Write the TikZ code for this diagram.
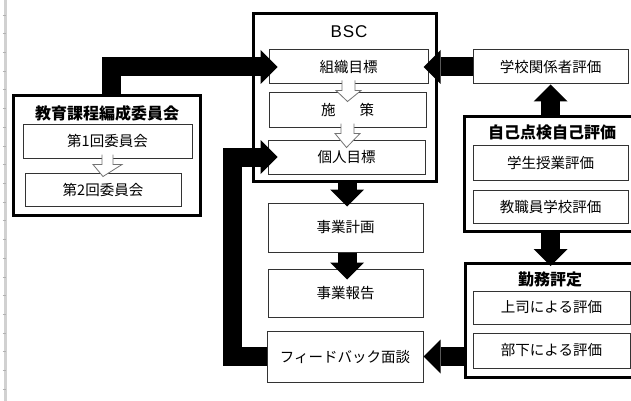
\documentclass[tikz,border=0pt]{standalone}
\usepackage{fontspec}
\setmainfont{Liberation Sans}
\newfontfamily\jp{Noto Sans CJK JP}
\usetikzlibrary{arrows.meta,calc}
\newcommand\hollowarrow[5]{%
  \filldraw[hollow] ($(#1.south)+(-#4,-4)$) -- ($(#1.south)+(-#4,6)$) -- ($(#1.south)+(-#5,6)$)
    -- ($(#2.north)+(0,#3)$) -- ($(#1.south)+(#5,6)$) -- ($(#1.south)+(#4,6)$) -- ($(#1.south)+(#4,-4)$);}
\begin{document}
\begin{tikzpicture}[x=1pt,y=-1pt]
\tikzset{
  inbox/.style={draw=black!80, line width=1pt, fill=white, inner sep=0pt,
    font=\jp\fontsize{14.5}{16}\selectfont, text=black},
  outbox/.style={draw=black, line width=3.4pt, fill=white, inner sep=0pt},
  boxtitle/.style={font=\jp\bfseries\fontsize{16}{18}\selectfont, inner sep=0pt, text=black},
  bigarrow/.style={line width=19pt, draw=black, line join=miter,
    -{Triangle[width=34pt,length=17pt,line width=0pt]}},
  hollow/.style={draw=black!55, line width=0.8pt, fill=white, line join=miter},
  margin/.style={fill=black!18},
  tick/.style={draw=black!30, line width=0.6pt}
}
\useasboundingbox (0,0) rectangle (631,401);
\clip (0,0) rectangle (631,401);
% left margin strip
\fill[margin] (4,0) rectangle (7,401);
\foreach \k in {0,...,21} \draw[tick] (2.5,15+18.7*\k) -- (6,15+18.7*\k);

% committee
\node[outbox, minimum width=186.6pt, minimum height=119.6pt] (com) at (107,155.5) {};
\node[boxtitle] (comt) at (107,113) {教育課程編成委員会};
\node[inbox, minimum width=169pt, minimum height=34pt] (c1) at (107.5,141) {第1回委員会};
\node[inbox, minimum width=156pt, minimum height=33pt] (c2) at (103,189.5) {第2回委員会};

% BSC
\node[outbox, minimum width=182.6pt, minimum height=167.6pt] (bsc) at (345,97.5) {};
\node[inner sep=0pt, font=\addfontfeature{LetterSpace=6}\fontsize{17}{19}\selectfont] (bsct) at (349,32) {BSC};
\node[inbox, minimum width=159pt, minimum height=34pt] (org) at (348.5,67) {組織目標};
\node[inbox, minimum width=157pt, minimum height=34pt] (sak) at (347.5,110) {施\hspace{24pt}策\hspace{10pt}};
\node[inbox, minimum width=157pt, minimum height=34pt] (kojin) at (346.5,157) {個人目標};

% middle column
\node[inbox, minimum width=155pt, minimum height=49pt] (jk) at (345.5,227.5) {事業計画};
\node[inbox, minimum width=155pt, minimum height=48pt] (jh) at (345.5,293) {事業報告};
\node[inbox, minimum width=156pt, minimum height=51pt] (fb) at (345,356.5) {フィードバック面談};

% right column
\node[inbox, minimum width=155pt, minimum height=34pt] (gkh) at (550.5,67) {学校関係者評価};
\node[outbox, minimum width=185.3pt, minimum height=114.6pt] (jiko) at (557.35,174) {};
\node[boxtitle] (jikot) at (552,132) {自己点検自己評価};
\node[inbox, minimum width=155pt, minimum height=35pt] (gse) at (550.5,162.5) {学生授業評価};
\node[inbox, minimum width=155pt, minimum height=33pt] (kyo) at (550.5,206.5) {教職員学校評価};
\node[outbox, minimum width=184.3pt, minimum height=113.6pt] (kin) at (557.85,320.5) {};
\node[boxtitle] (kint) at (550,279) {勤務評定};
\node[inbox, minimum width=157pt, minimum height=33pt] (jos) at (551.5,307.5) {上司による評価};
\node[inbox, minimum width=157pt, minimum height=35pt] (bu) at (551.5,350.5) {部下による評価};

% hollow arrows
\hollowarrow{c1}{c2}{4}{5.5}{14.5}
\hollowarrow{org}{sak}{9}{6.5}{12.5}
\hollowarrow{sak}{kojin}{8}{6.5}{12.5}

% thick arrows
\draw[bigarrow] ([xshift=4.5pt]com.north) |- ($(org.west)+(9,0)$);
\draw[bigarrow] (gkh.west) -- ($(org.east)+(-5,0)$);
\draw[bigarrow] (gkh.south |- jiko.north) -- (gkh.south);
\draw[bigarrow] (kyo.south |- jiko.south) -- ($(kyo.south |- kin.north)+(0,4)$);
\draw[bigarrow] (fb.east -| kin.west) -- (fb.east);
\draw[bigarrow] ([xshift=1.5pt]jk.north |- bsc.south) -- ($([xshift=1.5pt]jk.north)+(0,4)$);
\draw[bigarrow] ([xshift=1.5pt]jk.south) -- ($([xshift=1.5pt]jh.north)+(0,11)$);
\draw[bigarrow] (fb.west) -- ++(-34,0) |- ($(kojin.west)+(10,0)$);
\end{tikzpicture}
\end{document}
